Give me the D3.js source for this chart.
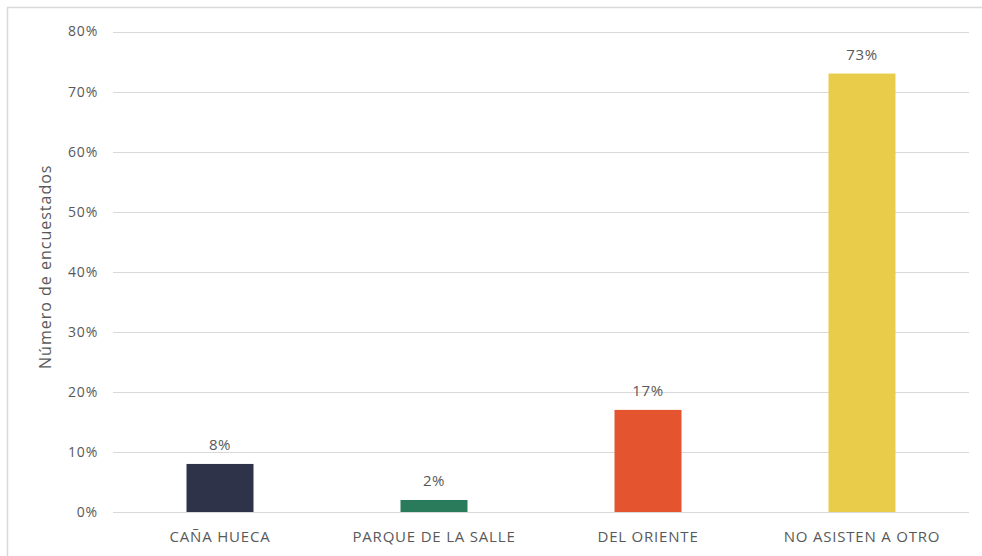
<!DOCTYPE html>
<html>
<head>
<meta charset="utf-8">
<script src="https://cdn.jsdelivr.net/npm/d3@7"></script>
<style>
  html, body { margin: 0; padding: 0; background: #fff; }
  svg { display: block; }
  text { font-family: "Open Sans", "Liberation Sans", sans-serif; fill: #595959; }
</style>
</head>
<body>
<svg id="chart" width="982" height="556"></svg>
<script>
// Survey results: other venues attended
const categories = ["CAÑA HUECA", "PARQUE DE LA SALLE", "DEL ORIENTE", "NO ASISTEN A OTRO"];
const values = [8, 2, 17, 73];
const barColors = ["#2f3349", "#2a7a5c", "#e4542f", "#e8cc4a"];
const yTicks = [0, 10, 20, 30, 40, 50, 60, 70, 80];
const yTitle = "Número de encuestados";

const svg = d3.select("#chart");
const W = 982, H = 556;
const margin = { left: 113, right: 13, top: 31.5, bottom: 44 };

// chart frame
svg.append("path")
  .attr("d", `M7.5,${H} V7.5 H${W}`)
  .attr("fill", "none")
  .attr("stroke", "#d9d9d9")
  .attr("stroke-width", 1.5);

const x = d3.scaleBand()
  .domain(categories)
  .range([margin.left, W - margin.right])
  .paddingInner(0.687)
  .paddingOuter(0.3435);

const y = d3.scaleLinear()
  .domain([0, 80])
  .range([H - margin.bottom, margin.top]);

// gridlines
svg.append("g")
  .selectAll("line")
  .data(yTicks)
  .join("line")
  .attr("x1", margin.left)
  .attr("x2", W - margin.right)
  .attr("y1", d => Math.round(y(d)) + 0.5)
  .attr("y2", d => Math.round(y(d)) + 0.5)
  .attr("stroke", "#d9d9d9")
  .attr("stroke-width", 1);

// y axis labels
const yAxis = d3.axisLeft(y)
  .tickValues(yTicks)
  .tickFormat(d => d + "%")
  .tickSize(0)
  .tickPadding(0);
const gy = svg.append("g")
  .attr("transform", `translate(98,0)`)
  .call(yAxis);
gy.select(".domain").remove();
gy.selectAll("text")
  .attr("font-size", 14)
  .attr("letter-spacing", 0.8)
  .attr("font-family", "Open Sans, sans-serif")
  .attr("fill", "#595959");

// x axis labels
const xAxis = d3.axisBottom(x).tickSize(0).tickPadding(0);
const gx = svg.append("g")
  .attr("transform", `translate(0,${H - margin.bottom + 19})`)
  .call(xAxis);
gx.select(".domain").remove();
gx.selectAll("text")
  .attr("font-size", 15)
  .attr("letter-spacing", 0.8)
  .attr("font-family", "Open Sans, sans-serif")
  .attr("fill", "#595959");

// bars
svg.append("g")
  .selectAll("rect")
  .data(categories)
  .join("rect")
  .attr("x", d => x(d))
  .attr("width", x.bandwidth())
  .attr("y", (d, i) => y(values[i]))
  .attr("height", (d, i) => y(0) - y(values[i]))
  .attr("fill", (d, i) => barColors[i]);

// value labels
svg.append("g")
  .selectAll("text")
  .data(categories)
  .join("text")
  .attr("x", d => x(d) + x.bandwidth() / 2)
  .attr("y", (d, i) => y(values[i]) - 14)
  .attr("text-anchor", "middle")
  .attr("font-size", 15)
  .attr("letter-spacing", 0.6)
  .text((d, i) => values[i] + "%");

// y axis title
svg.append("text")
  .attr("transform", `translate(51,${(y(0) + y(80)) / 2 - 5}) rotate(-90)`)
  .attr("text-anchor", "middle")
  .attr("font-size", 16)
  .attr("letter-spacing", 1)
  .text(yTitle);
</script>
</body>
</html>
